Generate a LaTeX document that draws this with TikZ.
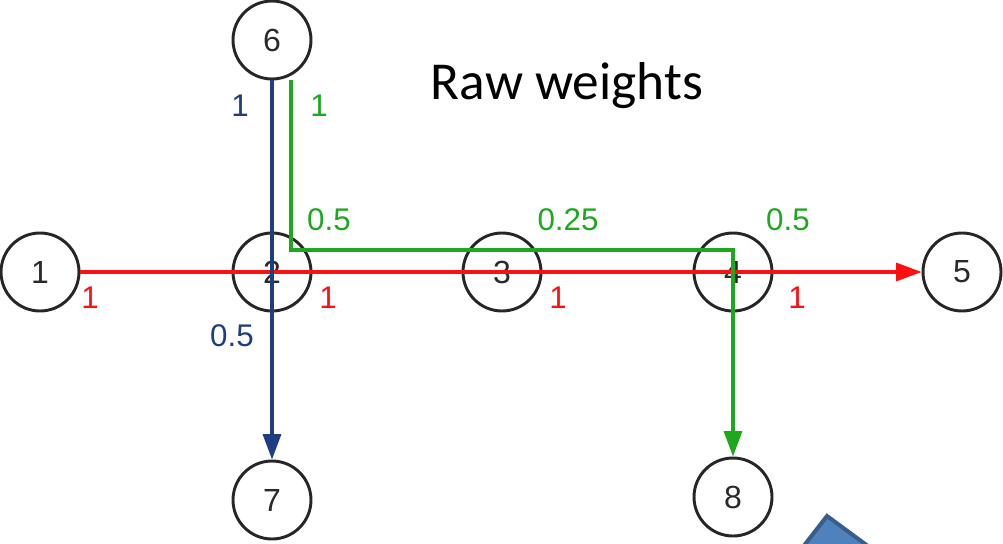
\documentclass[tikz,border=0pt]{standalone}
\usepackage{fontspec}
\setmainfont{Liberation Sans}
\newfontfamily\titlefont{Carlito}
\usetikzlibrary{arrows.meta}
\definecolor{wred}{HTML}{FF1010}
\definecolor{wblue}{HTML}{1F3D80}
\definecolor{wgreen}{HTML}{1EA81E}
\definecolor{ntext}{HTML}{2A2A2A}
\definecolor{shapefill}{HTML}{4F81BD}
\definecolor{shapeline}{HTML}{385D8A}
\begin{document}
\begin{tikzpicture}[x=0.75pt,y=-0.75pt,
  vertex/.style={circle,draw=black!85,line width=2.2pt,minimum size=58.5pt,inner sep=0pt,
     font=\fontsize{24}{26}\selectfont,text=ntext},
  edge/.style={line width=2.3pt},
  tip/.style={-{Triangle[length=19pt,width=13.5pt]}},
  wlabel/.style={font=\fontsize{23.5}{25}\selectfont},
]
\useasboundingbox (0,0) rectangle (1003,543);
\begin{scope}
\clip (0,0) rectangle (1003,543);
\filldraw[fill=shapefill,draw=shapeline,line width=3pt] (799,552) -- (827,516) -- (876,552) -- cycle;
\end{scope}
\node[vertex] (n1) at (40,272) {1};
\node[vertex] (n2) at (272,272) {2};
\node[vertex] (n3) at (502,272) {3};
\node[vertex] (n4) at (733,272) {4};
\node[vertex] (n5) at (962,272) {5};
\node[vertex] (n6) at (272,40) {6};
\node[vertex] (n7) at (272,500) {7};
\node[vertex] (n8) at (733,497) {8};
\coordinate (gturn) at (733,250);
\draw[edge,wred,tip] (n1.east) -- (n5.west);
\draw[edge,wblue,tip] (n6.south) -- (n7.north);
\draw[edge,wgreen,tip] ([xshift=14.25pt]n6.south) |- (gturn) -- (n8.north);
\node[font=\titlefont\fontsize{40}{42}\selectfont] (title) at (567,86) {Raw weights};
\node[wlabel,text=wblue] (lb1) at (240,106) {1};
\node[wlabel,text=wgreen] (lg1) at (319,106) {1};
\node[wlabel,text=wgreen] (lg2) at (329,220) {0.5};
\node[wlabel,text=wgreen] (lg3) at (568,220) {0.25};
\node[wlabel,text=wgreen] (lg4) at (788,220) {0.5};
\node[wlabel,text=wred] (lr1) at (90,298) {1};
\node[wlabel,text=wred] (lr2) at (328,298) {1};
\node[wlabel,text=wred] (lr3) at (558,298) {1};
\node[wlabel,text=wred] (lr4) at (797,298) {1};
\node[wlabel,text=wblue] (lb2) at (232,336) {0.5};
\end{tikzpicture}
\end{document}
